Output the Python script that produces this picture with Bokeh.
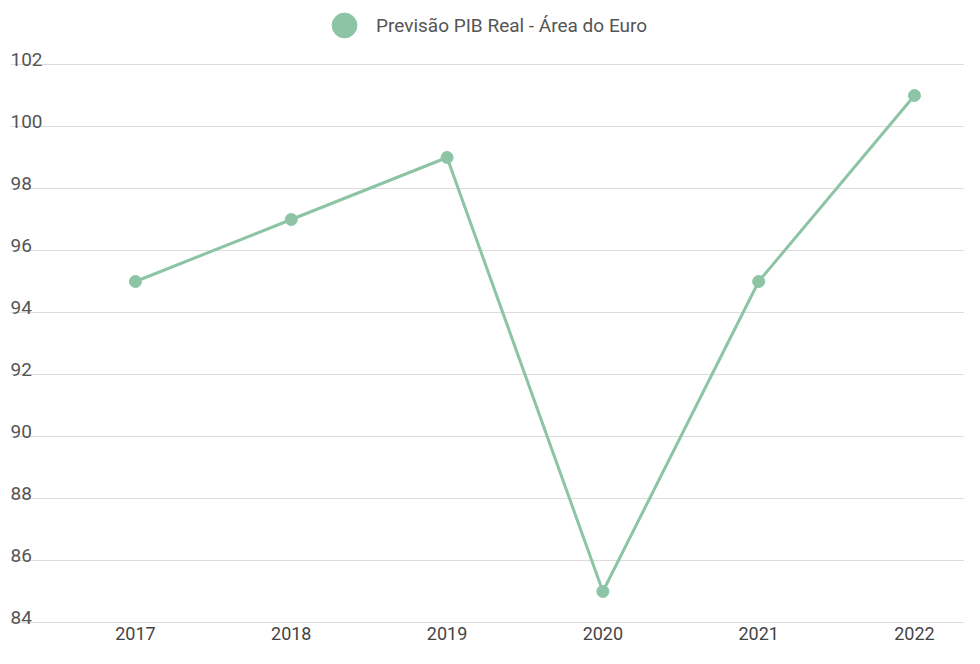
from bokeh.plotting import figure
from bokeh.models import FixedTicker, Range1d, Legend, LegendItem, ColumnDataSource
from bokeh.core.properties import value
from bokeh.embed import file_html
from bokeh.resources import INLINE

years = [2017, 2018, 2019, 2020, 2021, 2022]
gdp = [95, 97, 99, 85, 95, 101]
y_ticks = [84, 86, 88, 90, 92, 94, 96, 98, 100, 102]
series_name = "Previsão PIB Real - Área do Euro"

GREEN = "#8cc4a5"
FONT = "Roboto"

x_start, x_end = 2016.198, 2022.321
p = figure(width=964, height=648, output_backend="svg", toolbar_location=None,
           x_range=Range1d(x_start, x_end), y_range=Range1d(83.935, 104.065),
           min_border_left=10, min_border_right=0, min_border_top=0, min_border_bottom=24)
p.outline_line_color = None
p.background_fill_color = "white"

src = ColumnDataSource(dict(x=years, y=gdp))
line_r = p.line("x", "y", source=src, line_color=GREEN, line_width=3)
pts_r = p.scatter("x", "y", source=src, size=12, fill_color=GREEN, line_color=GREEN)

# y axis hidden; labels drawn above the gridlines
p.yaxis.visible = False
p.yaxis.ticker = FixedTicker(ticks=y_ticks)
p.ygrid.ticker = FixedTicker(ticks=y_ticks)
p.ygrid.grid_line_color = "#dcdcdc"
p.ygrid.grid_line_width = 1.2
p.xgrid.visible = False

lab_src = ColumnDataSource(dict(x=[x_start] * len(y_ticks), y=y_ticks,
                                t=[str(v) for v in y_ticks]))
p.text("x", "y", text="t", source=lab_src, text_font=value(FONT),
       text_font_size="19px", text_color="#555555", text_align="left",
       text_baseline="alphabetic", y_offset=-5)

xa = p.xaxis[0]
xa.ticker = FixedTicker(ticks=years)
xa.major_label_overrides = {y: str(y) for y in years}
xa.axis_line_color = None
xa.major_tick_line_color = None
xa.minor_tick_line_color = None
xa.major_tick_out = 0
xa.major_tick_in = 0
xa.major_label_standoff = 2
xa.major_label_text_font = FONT
xa.major_label_text_font_size = "18px"
xa.major_label_text_color = "#444444"

legend = Legend(items=[LegendItem(label=series_name, renderers=[pts_r])],
                location=(303, 568), orientation="horizontal",
                glyph_width=62, glyph_height=62, label_standoff=1,
                padding=0, margin=0, spacing=0,
                border_line_color=None, background_fill_alpha=0,
                label_text_font=FONT, label_text_font_size="19px",
                label_text_color="#555555")
p.add_layout(legend)

open("out.html", "w").write(file_html(p, INLINE))
